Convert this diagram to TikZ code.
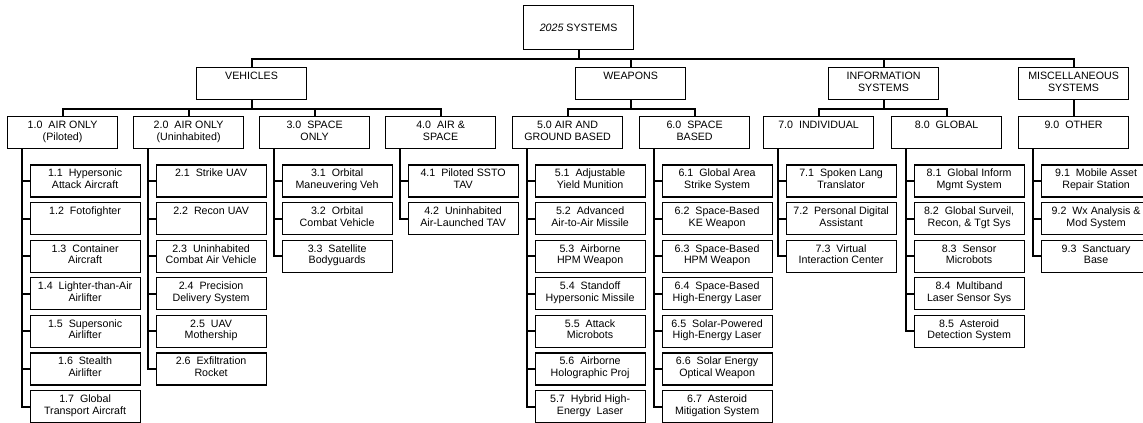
\documentclass[tikz,border=0pt]{standalone}
\usepackage{fontspec}
\setmainfont{Liberation Sans}
\newcommand\chartfont{\fontsize{8}{8.8}\selectfont}
% texto centrado, alineado arriba (linea base = primera linea)
\newcommand\lines[1]{\parbox[t]{80.5pt}{\centering #1}}

\begin{document}
\begin{tikzpicture}[x=0.75pt, y=-0.75pt,
    box/.style={draw, line width=0.9pt, anchor=north west, minimum width=82.5pt,
      inner xsep=1pt, inner ysep=0pt,
      text height=8.8pt, text depth=15.2pt, font=\chartfont},
    topbox/.style={draw, line width=0.9pt, anchor=north west, minimum width=82.5pt,
      minimum height=33pt, font=\chartfont},
    conn/.style={line width=1.5pt}]
    \useasboundingbox (0,0) rectangle (1143,423);

    % Nivel superior
    \node[topbox] (sys) at (523,5) {\textit{2025} SYSTEMS};

    % Categorias
    \node[box] (veh)  at (196,67)  {\lines{VEHICLES}};
    \node[box] (wpn)  at (575,67)  {\lines{WEAPONS}};
    \node[box] (info) at (828,67)  {\lines{INFORMATION\\SYSTEMS}};
    \node[box] (misc) at (1018,67) {\lines{MISCELLANEOUS\\SYSTEMS}};

    % Grupos
    \node[box] (c1) at (7,116)    {\lines{1.0~~AIR ONLY\\(Piloted)}};
    \node[box] (c2) at (133,116)  {\lines{2.0~~AIR ONLY\\(Uninhabited)}};
    \node[box] (c3) at (259,116)  {\lines{3.0~~SPACE\\ONLY}};
    \node[box] (c4) at (385,116)  {\lines{4.0~~AIR \&\\SPACE}};
    \node[box] (c5) at (512,116)  {\lines{5.0 AIR AND\\GROUND BASED}};
    \node[box] (c6) at (639,116)  {\lines{6.0~~SPACE\\BASED}};
    \node[box] (c7) at (763,116)  {\lines{7.0~~INDIVIDUAL}};
    \node[box] (c8) at (891,116)  {\lines{8.0~~GLOBAL}};
    \node[box] (c9) at (1018,116) {\lines{9.0~~OTHER}};

    % Sistemas de cada grupo
    \foreach \t [count=\i] in {{1.1~~Hypersonic\\Attack Aircraft}, {1.2~~Fotofighter},
        {1.3~~Container\\Aircraft}, {1.4~~Lighter-than-Air\\Airlifter},
        {1.5~~Supersonic\\Airlifter}, {1.6~~Stealth\\Airlifter},
        {1.7~~Global\\Transport Aircraft}}
      \node[box] (c1-\i) at (29.5,{164.5+37.6*(\i-1)}) {\lines{\t}};
    \foreach \t [count=\i] in {{2.1~~Strike UAV}, {2.2~~Recon UAV},
        {2.3~~Uninhabited\\Combat Air Vehicle}, {2.4~~Precision\\Delivery System},
        {2.5~~UAV\\Mothership}, {2.6~~Exfiltration\\Rocket}}
      \node[box] (c2-\i) at (155.5,{164.5+37.6*(\i-1)}) {\lines{\t}};
    \foreach \t [count=\i] in {{3.1~~Orbital\\Maneuvering Veh},
        {3.2~~Orbital\\Combat Vehicle}, {3.3~~Satellite\\Bodyguards}}
      \node[box] (c3-\i) at (281.5,{164.5+37.6*(\i-1)}) {\lines{\t}};
    \foreach \t [count=\i] in {{4.1~~Piloted SSTO\\TAV},
        {4.2~~Uninhabited\\Air-Launched TAV}}
      \node[box] (c4-\i) at (407.5,{164.5+37.6*(\i-1)}) {\lines{\t}};
    \foreach \t [count=\i] in {{5.1~~Adjustable\\Yield Munition},
        {5.2~~Advanced\\Air-to-Air Missile}, {5.3~~Airborne\\HPM Weapon},
        {5.4~~Standoff\\Hypersonic Missile}, {5.5~~Attack\\Microbots},
        {5.6~~Airborne\\Holographic Proj}, {5.7~~Hybrid High-\\Energy~~Laser}}
      \node[box] (c5-\i) at (534.5,{164.5+37.6*(\i-1)}) {\lines{\t}};
    \foreach \t [count=\i] in {{6.1~~Global Area\\Strike System},
        {6.2~~Space-Based\\KE Weapon}, {6.3~~Space-Based\\HPM Weapon},
        {6.4~~Space-Based\\High-Energy Laser}, {6.5~~Solar-Powered\\High-Energy Laser},
        {6.6~~Solar Energy\\Optical Weapon}, {6.7~~Asteroid\\Mitigation System}}
      \node[box] (c6-\i) at (661.5,{164.5+37.6*(\i-1)}) {\lines{\t}};
    \foreach \t [count=\i] in {{7.1~~Spoken Lang\\Translator},
        {7.2~~Personal Digital\\Assistant}, {7.3~~Virtual\\Interaction Center}}
      \node[box] (c7-\i) at (785.5,{164.5+37.6*(\i-1)}) {\lines{\t}};
    \foreach \t [count=\i] in {{8.1~~Global Inform\\Mgmt System},
        {8.2~~Global Surveil,\\Recon, \& Tgt Sys}, {8.3~~Sensor\\Microbots},
        {8.4~~Multiband\\Laser Sensor Sys}, {8.5~~Asteroid\\Detection System}}
      \node[box] (c8-\i) at (913.5,{164.5+37.6*(\i-1)}) {\lines{\t}};
    \foreach \t [count=\i] in {{9.1~~Mobile Asset\\Repair Station},
        {9.2~~Wx Analysis \&\\Mod System}, {9.3~~Sanctuary\\Base}}
      \node[box] (c9-\i) at (1040.5,{164.5+37.6*(\i-1)}) {\lines{\t}};

    % Conexiones entre niveles
    \foreach \c in {veh,wpn,info,misc}
      \draw[conn] (sys.south) -- ++(0,9) -| (\c.north);
    \foreach \c in {c1,c2,c3,c4}
      \draw[conn] (veh.south) -- ++(0,9) -| (\c.north);
    \foreach \c in {c5,c6}
      \draw[conn] (wpn.south) -- ++(0,9) -| (\c.north);
    \foreach \c in {c7,c8}
      \draw[conn] (info.south) -- ++(0,9) -| (\c.north);
    \draw[conn] (misc.south) -- (c9.north);

    % Troncos verticales hacia los sistemas
    \foreach \g/\n in {c1/7,c2/6,c3/3,c4/2,c5/7,c6/7,c7/3,c8/5,c9/3} {
      \coordinate (\g-t) at ([xshift=10.9pt]\g.south west);
      \foreach \i in {1,...,\n}
        \draw[conn] (\g-t) |- (\g-\i.west);
    }
\end{tikzpicture}
\end{document}
